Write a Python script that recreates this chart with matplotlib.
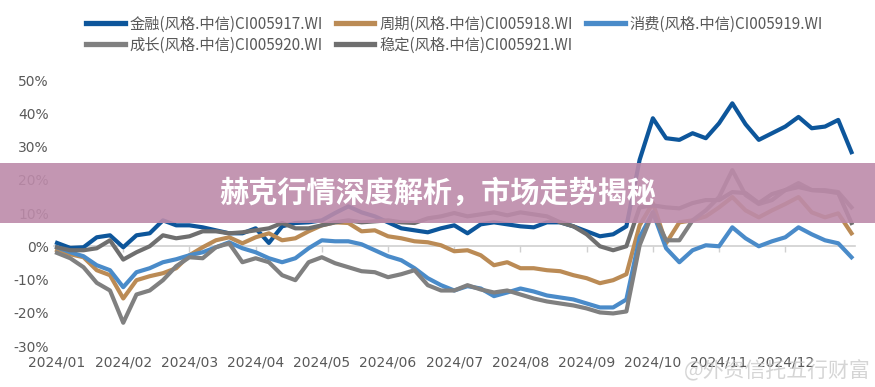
import matplotlib
matplotlib.use("Agg")
import matplotlib.pyplot as plt
import numpy as np
from matplotlib.patches import Rectangle
from matplotlib.ticker import FuncFormatter

plt.rcParams['font.family'] = ['Noto Sans CJK SC', 'DejaVu Sans']

# x positions in months since 2024/01 (one value every 0.2 month)
months = np.round(np.arange(0, 12.01, 0.2), 2)
month_labels = ['2024/01', '2024/02', '2024/03', '2024/04', '2024/05', '2024/06',
                '2024/07', '2024/08', '2024/09', '2024/10', '2024/11', '2024/12']

# cumulative return, %
finance = [1.0, -0.5, -0.3, 2.7, 3.3, -0.3, 3.3, 3.9, 7.8, 6.3, 6.3, 5.7, 4.8, 3.9, 3.9, 5.4,
           1.0, 6.0, 7.0, 7.2, 7.8, 10.0, 12.0, 10.2, 9.0, 7.2, 5.4, 4.8, 4.2, 5.4, 6.3, 3.9,
           6.6, 7.2, 6.6, 6.0, 5.7, 7.2, 7.2, 6.0, 4.5, 3.0, 3.6, 6.0, 26.0, 38.5, 32.5, 32.0,
           34.0, 32.5, 37.0, 43.0, 36.7, 32.0, 34.0, 36.0, 38.9, 35.5, 36.0, 38.0, 28.3]
cyclical = [-1.2, -2.4, -3.3, -7.2, -8.7, -15.7, -10.2, -9.0, -8.1, -6.6, -2.7, -0.3, 1.8, 2.7, 0.9, 2.7,
            3.9, 1.8, 2.4, 4.5, 6.3, 7.2, 7.0, 4.5, 4.8, 3.0, 2.4, 1.5, 1.2, 0.3, -1.5, -1.2,
            -2.7, -5.7, -4.8, -6.6, -6.6, -7.2, -7.5, -8.7, -9.6, -11.1, -10.2, -8.4, 6.3, 13.0, 0.9, 7.2,
            7.8, 9.0, 11.7, 14.8, 10.8, 8.7, 10.8, 12.7, 14.8, 10.2, 8.7, 9.9, 3.9]
consumer = [-0.3, -1.8, -3.0, -5.7, -7.2, -12.3, -7.8, -6.6, -4.8, -3.9, -2.7, -1.8, -0.3, 1.2, -0.6, -1.8,
            -3.6, -4.8, -3.6, -0.6, 1.8, 1.5, 1.5, 0.6, -1.2, -3.0, -4.2, -6.6, -9.6, -11.7, -13.3, -12.0,
            -12.7, -15.0, -13.9, -12.7, -13.6, -14.8, -15.4, -16.0, -17.2, -18.4, -18.4, -16.0, 2.7, 10.2, -0.6, -4.8,
            -1.2, 0.3, 0.0, 5.7, 2.4, 0.0, 1.5, 2.7, 5.7, 3.6, 1.8, 0.9, -3.3]
growth = [-2.0, -3.6, -6.3, -11.0, -13.3, -23.0, -14.5, -13.3, -10.2, -6.0, -3.3, -3.6, -0.3, 0.9, -4.8, -3.6,
          -4.8, -8.7, -10.2, -4.8, -3.3, -5.1, -6.3, -7.5, -7.8, -9.3, -8.4, -7.2, -11.7, -13.3, -13.3, -11.7,
          -13.0, -13.9, -13.3, -14.5, -15.7, -16.6, -17.2, -17.8, -18.7, -19.9, -20.2, -19.6, 0.3, 10.2, 1.8, 1.8,
          7.8, 10.8, 14.8, 22.9, 15.4, 12.7, 13.9, 16.9, 19.0, 16.9, 16.9, 16.3, 11.7]
stable = [-0.3, -1.2, -1.2, -0.6, 1.8, -4.0, -1.8, 0.0, 3.3, 2.4, 3.0, 4.5, 4.5, 3.9, 4.2, 4.8,
          5.4, 7.0, 5.4, 5.4, 6.3, 7.2, 7.8, 7.2, 7.5, 7.8, 7.2, 7.0, 8.4, 9.0, 10.0, 9.0,
          9.6, 10.2, 9.3, 10.2, 9.6, 9.0, 7.2, 6.0, 3.6, 0.0, -1.2, 0.0, 11.7, 12.3, 11.7, 11.4,
          13.0, 13.9, 13.9, 16.3, 16.0, 13.0, 15.7, 16.9, 17.8, 16.9, 16.6, 16.0, 7.0]

names = ['金融(风格.中信)CI005917.WI', '周期(风格.中信)CI005918.WI', '消费(风格.中信)CI005919.WI',
         '成长(风格.中信)CI005920.WI', '稳定(风格.中信)CI005921.WI']
colors = ['#0d569b', '#bb8b55', '#4a8bc9', '#808080', '#6f6f6f']
series = [finance, cyclical, consumer, growth, stable]

fig = plt.figure(figsize=(8.75, 3.87), dpi=100)
ax = fig.add_axes([0.0614, 0.1059, 0.9155, 0.6873])

lines = []
for vals, c, n in zip(series, colors, names):
    ln, = ax.plot(months, vals, color=c, lw=3, label=n, solid_joinstyle='round', zorder=3)
    lines.append(ln)

ax.set_xlim(-0.05, 12.05)
ax.set_ylim(-30, 50)
ax.set_yticks(range(-30, 51, 10))
ax.yaxis.set_major_formatter(FuncFormatter(lambda v, p: f'{int(v)}%'))
ax.set_xticks(range(12))
ax.set_xticklabels(month_labels)
ax.tick_params(axis='both', length=0, colors='#595959', labelsize=10)
ax.tick_params(axis='x', pad=7)
for lab in ax.get_xticklabels() + ax.get_yticklabels():
    lab.set_family('DejaVu Sans')
for s in ax.spines.values():
    s.set_visible(False)

# zero line with month ticks
zero_ax = ax.secondary_xaxis(30 / 80)
zero_ax.set_xticks(range(12))
zero_ax.set_xticklabels([])
zero_ax.tick_params(direction='out', length=4, color='#d0d0d0', width=1)
zero_ax.spines['bottom'].set_color('#d0d0d0')
zero_ax.spines['bottom'].set_linewidth(1.2)

order = [0, 3, 1, 4, 2]
leg = fig.legend([lines[i] for i in order], [names[i] for i in order], ncol=3,
                 loc='upper left', bbox_to_anchor=(0.083, 0.995), frameon=False,
                 fontsize=11, handlelength=2.5, handletextpad=0.3, columnspacing=0.9,
                 labelspacing=0.25, labelcolor='#595959')
for h in leg.legend_handles:
    h.set_linewidth(3.8)

# title banner
fig.add_artist(Rectangle((0, 1 - 223 / 387), 1, 60 / 387, transform=fig.transFigure,
                         facecolor='#bd8baa', alpha=0.9, edgecolor='none', zorder=10))
fig.text(0.5, 1 - 193 / 387, '赫克行情深度解析，市场走势揭秘', ha='center', va='center',
         color='white', fontsize=21, fontweight='bold', zorder=11)

# watermark
fig.text(0.995, 1 - 371 / 387, '@外资信托五行财富', ha='right', va='center',
         color='#c4c4c4', alpha=0.7, fontsize=15, zorder=12)

fig.savefig('out.png', dpi=100)
